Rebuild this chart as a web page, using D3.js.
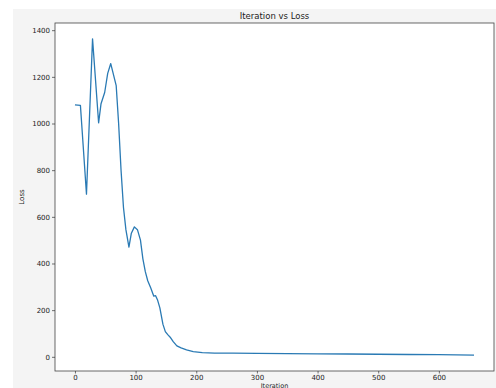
<!DOCTYPE html>
<html><head><meta charset="utf-8">
<script src="https://cdn.jsdelivr.net/npm/d3@7"></script>
<style>
html,body{margin:0;padding:0;background:#fff;}
svg{display:block;font-family:"DejaVu Sans",sans-serif;}
</style></head>
<body>
<svg id="chart" width="496" height="388"></svg>
<script>
const iterations = [0, 9, 19, 29, 39, 43, 49, 54, 59, 68, 72, 76, 80, 84, 89, 93, 98, 103, 108, 112, 116, 120, 125, 130, 133, 136, 140, 145, 149, 153, 157, 162, 168, 175, 184, 195, 210, 230, 260, 300, 350, 400, 450, 500, 550, 600, 658];
const losses =     [1080, 1078, 697, 1363, 1003, 1085, 1133, 1215, 1257, 1162, 1000, 800, 640, 545, 470, 530, 557, 545, 500, 420, 365, 326, 295, 260, 262, 245, 210, 140, 108, 95, 84, 65, 47, 38, 30, 22, 18, 16, 16, 15, 14, 13, 12, 11, 10, 9, 7];
const xTicks = [0, 100, 200, 300, 400, 500, 600];
const yTicks = [0, 200, 400, 600, 800, 1000, 1200, 1400];
const title = "Iteration vs Loss";
const xLabel = "Iteration";
const yLabel = "Loss";

const svg = d3.select("#chart");
svg.append("rect").attr("x", 13).attr("y", 9).attr("width", 483).attr("height", 379).attr("fill", "#f4f4f4");

const m = {left: 55, top: 23, right: 494, bottom: 371};
const xMin = d3.min(iterations), xMax = d3.max(iterations);
const yMin = d3.min(losses), yMax = d3.max(losses);
const xPad = (xMax - xMin) * 0.05, yPad = (yMax - yMin) * 0.05;
const x = d3.scaleLinear().domain([xMin - xPad, xMax + xPad]).range([m.left, m.right]);
const y = d3.scaleLinear().domain([yMin - yPad, yMax + yPad]).range([m.bottom, m.top]);

svg.append("rect").attr("x", m.left).attr("y", m.top).attr("width", m.right - m.left).attr("height", m.bottom - m.top)
  .attr("fill", "#fff");

const line = d3.line().x((d, i) => x(iterations[i])).y(d => y(d));
svg.append("path").datum(losses).attr("d", line).attr("fill", "none")
  .attr("stroke", "#2a7ab4").attr("stroke-width", 1.3).attr("stroke-linejoin", "round");

svg.append("rect").attr("x", m.left).attr("y", m.top).attr("width", m.right - m.left).attr("height", m.bottom - m.top)
  .attr("fill", "none").attr("stroke", "#444").attr("stroke-width", 0.8);

const xAxis = svg.append("g").attr("transform", `translate(0,${m.bottom})`)
  .call(d3.axisBottom(x).tickValues(xTicks).tickSize(2.5).tickPadding(1.5).tickFormat(d3.format("d")));
const yAxis = svg.append("g").attr("transform", `translate(${m.left},0)`)
  .call(d3.axisLeft(y).tickValues(yTicks).tickSize(3).tickPadding(2).tickFormat(d3.format("d")));
[xAxis, yAxis].forEach(a => {
  a.select(".domain").remove();
  a.selectAll(".tick line").attr("stroke", "#333").attr("stroke-width", 0.7);
  a.selectAll(".tick text").attr("fill", "#222").style("font-size", "7px").style("font-family", "DejaVu Sans");
});

svg.append("text").attr("x", (m.left + m.right) / 2).attr("y", 19).attr("text-anchor", "middle")
  .style("font-size", "8.5px").attr("fill", "#222").text(title);
svg.append("text").attr("x", (m.left + m.right) / 2).attr("y", 387.5).attr("text-anchor", "middle")
  .style("font-size", "6.5px").attr("fill", "#222").text(xLabel);
svg.append("text").attr("transform", `translate(24,${(m.top + m.bottom) / 2}) rotate(-90)`).attr("text-anchor", "middle")
  .style("font-size", "7px").attr("fill", "#222").text(yLabel);
</script>
</body></html>
